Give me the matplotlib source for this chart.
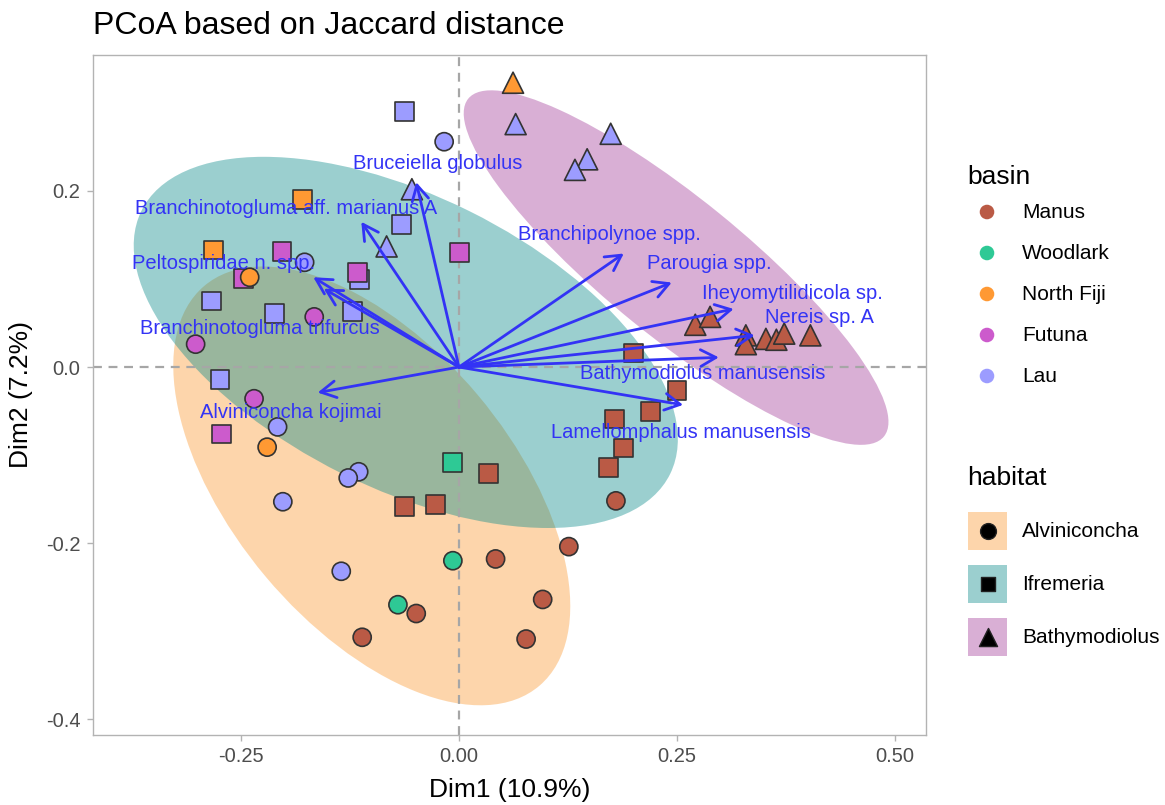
import numpy as np
import matplotlib
matplotlib.use("Agg")
import matplotlib.pyplot as plt
from matplotlib.patches import Ellipse, Rectangle, FancyArrowPatch

plt.rcParams['font.family'] = ['Liberation Sans', 'DejaVu Sans']

# ---- data ----
basins = ["Manus", "Woodlark", "North Fiji", "Futuna", "Lau"]
basin_colors = ["#BA5A45", "#2EC995", "#FF9933", "#CC5BCC", "#9C9CFF"]

habitats = ["Ifremeria", "Alviniconcha", "Bathymodiolus"]

# Ifremeria (squares)
sq_x = [-0.062, -0.179, -0.066, 0.001, -0.282, -0.203, -0.247, -0.114, -0.116,
        -0.284, -0.212, -0.122, -0.274, -0.272, -0.007, 0.034, -0.062, -0.027,
        0.200, 0.250, 0.220, 0.178, 0.189, 0.171]
sq_y = [0.290, 0.190, 0.162, 0.130, 0.133, 0.131, 0.101, 0.099, 0.107,
        0.075, 0.061, 0.063, -0.014, -0.076, -0.108, -0.121, -0.158, -0.156,
        0.016, -0.027, -0.050, -0.059, -0.092, -0.114]
sq_basin = ["Lau", "North Fiji", "Lau", "Futuna", "North Fiji", "Futuna", "Futuna", "Lau", "Futuna",
            "Lau", "Lau", "Lau", "Lau", "Futuna", "Woodlark", "Manus", "Manus", "Manus",
            "Manus", "Manus", "Manus", "Manus", "Manus", "Manus"]

# Alviniconcha (circles)
ci_x = [-0.017, -0.177, -0.240, -0.166, -0.302, -0.235, -0.208, -0.220, -0.115, -0.127,
        -0.202, -0.135, -0.007, 0.042, -0.070, -0.049, -0.111, 0.180, 0.126, 0.096, 0.077]
ci_y = [0.256, 0.119, 0.102, 0.057, 0.026, -0.036, -0.068, -0.091, -0.119, -0.126,
        -0.153, -0.232, -0.220, -0.218, -0.270, -0.280, -0.307, -0.152, -0.204, -0.264, -0.309]
ci_basin = ["Lau", "Lau", "North Fiji", "Futuna", "Futuna", "Futuna", "Lau", "North Fiji", "Lau", "Lau",
            "Lau", "Lau", "Woodlark", "Manus", "Woodlark", "Manus", "Manus", "Manus", "Manus", "Manus", "Manus"]

# Bathymodiolus (triangles)
tr_x = [0.062, 0.065, 0.174, 0.147, 0.133, -0.054, -0.083,
        0.271, 0.288, 0.329, 0.329, 0.352, 0.364, 0.373, 0.403]
tr_y = [0.323, 0.276, 0.265, 0.236, 0.224, 0.202, 0.137,
        0.048, 0.057, 0.036, 0.026, 0.032, 0.031, 0.038, 0.036]
tr_basin = ["North Fiji", "Lau", "Lau", "Lau", "Lau", "Lau", "Lau",
            "Manus", "Manus", "Manus", "Manus", "Manus", "Manus", "Manus", "Manus"]

# confidence ellipses per habitat: centre, width, height, angle
ell_habitat = ["Alviniconcha", "Ifremeria", "Bathymodiolus"]
ell_cx = [-0.100, -0.061, 0.249]
ell_cy = [-0.135, 0.028, 0.113]
ell_w = [0.595, 0.676, 0.612]
ell_h = [0.319, 0.332, 0.158]
ell_ang = [-49.7, -26.2, -38.8]
ell_colors = ["#FA982F", "#058989", "#A03998"]

# species vectors
sp_names = ["Bruceiella globulus", "Branchinotogluma aff. marianus A", "Peltospiridae n. spp.",
            "Branchinotogluma trifurcus", "Alviniconcha kojimai", "Branchipolynoe spp.",
            "Parougia spp.", "Iheyomytilidicola sp.", "Nereis sp. A",
            "Bathymodiolus manusensis", "Lamellomphalus manusensis"]
sp_x = [-0.049, -0.112, -0.167, -0.155, -0.162, 0.189, 0.244, 0.315, 0.339, 0.298, 0.257]
sp_y = [0.210, 0.165, 0.102, 0.089, -0.029, 0.129, 0.096, 0.066, 0.036, 0.011, -0.043]
lab_x = [-0.024, -0.198, -0.270, -0.228, -0.193, 0.172, 0.287, 0.382, 0.413, 0.280, 0.255]
lab_y = [0.231, 0.180, 0.118, 0.044, -0.052, 0.151, 0.118, 0.084, 0.056, -0.007, -0.074]

x_ticks = [-0.25, 0.00, 0.25, 0.50]
y_ticks = [-0.4, -0.2, 0.0, 0.2]

W, H = 1165, 805
fig = plt.figure(figsize=(W / 100, H / 100), dpi=100)
ax = fig.add_axes([93 / W, 1 - 735 / H, (926 - 93) / W, (735 - 55) / H])
ax.set_xlim(-0.4197, 0.5356)
ax.set_ylim(-0.418, 0.3545)

arrow_col = "#3333F5"
edge = "#333333"

for hab, cx, cy, w, h, a, c in zip(ell_habitat, ell_cx, ell_cy, ell_w, ell_h, ell_ang, ell_colors):
    ax.add_patch(Ellipse((cx, cy), w, h, angle=a, facecolor=c, alpha=0.4, edgecolor="none", zorder=1))

ax.axhline(0, color="#A6A6A6", ls=(0, (4, 3)), lw=1.6, zorder=2)
ax.axvline(0, color="#A6A6A6", ls=(0, (4, 3)), lw=1.6, zorder=2)

cmap = dict(zip(basins, basin_colors))
ax.scatter(sq_x, sq_y, s=185, marker="s", c=[cmap[b] for b in sq_basin],
           edgecolors=edge, linewidths=1.2, zorder=3)
ax.scatter(ci_x, ci_y, s=170, marker="o", c=[cmap[b] for b in ci_basin],
           edgecolors=edge, linewidths=1.2, zorder=3)
ax.scatter(tr_x, tr_y, s=230, marker="^", c=[cmap[b] for b in tr_basin],
           edgecolors=edge, linewidths=1.2, zorder=3)

for name, tx, ty, lx, ly in zip(sp_names, sp_x, sp_y, lab_x, lab_y):
    ax.add_patch(FancyArrowPatch((0, 0), (tx, ty), arrowstyle="->,head_length=0.55,head_width=0.3",
                                 mutation_scale=20, color=arrow_col, lw=2, shrinkA=0, shrinkB=0, zorder=4))
    ax.text(lx, ly, name, color=arrow_col, fontsize=14.5, ha="center", va="center", zorder=5)

ax.set_xticks(x_ticks)
ax.set_xticklabels([f"{v:.2f}" for v in x_ticks])
ax.set_yticks(y_ticks)
ax.set_yticklabels([f"{v:.1f}" for v in y_ticks])
ax.tick_params(length=4, width=1, color="#B3B3B3", labelcolor="#4D4D4D", labelsize=14.5, pad=5)
for sp in ax.spines.values():
    sp.set_color("#B3B3B3")
    sp.set_linewidth(1)
ax.set_xlabel("Dim1 (10.9%)", fontsize=19, labelpad=8)
ax.set_ylabel("Dim2 (7.2%)", fontsize=19, labelpad=9)

fig.text(93 / W, 1 - 26 / H, "PCoA based on Jaccard distance", fontsize=23, ha="left", va="center")

# legends drawn in pixel space
lax = fig.add_axes([0, 0, 1, 1])
lax.set_xlim(0, W)
lax.set_ylim(H, 0)
lax.axis("off")

lax.text(967, 177, "basin", fontsize=19, ha="left", va="center")
for i, (b, c) in enumerate(zip(basins, basin_colors)):
    yy = 212 + i * 41
    lax.scatter([987], [yy], s=110, c=c, edgecolors="none")
    lax.text(1022, yy, b, fontsize=15, ha="left", va="center")

lax.text(967, 478, "habitat", fontsize=19, ha="left", va="center")
leg_markers = {"Alviniconcha": ("o", 130), "Ifremeria": ("s", 110), "Bathymodiolus": ("^", 170)}
for i, (hab, c) in enumerate(zip(ell_habitat, ell_colors)):
    yy = 531 + i * 53
    lax.add_patch(Rectangle((968, yy - 19), 39, 38, facecolor=c, alpha=0.4, edgecolor="none"))
    m, s = leg_markers[hab]
    lax.scatter([987.5], [yy], s=s, marker=m, c="black", edgecolors="#222222")
    lax.text(1022, yy, hab, fontsize=15, ha="left", va="center")

fig.savefig("out.png", dpi=100, facecolor="white")
